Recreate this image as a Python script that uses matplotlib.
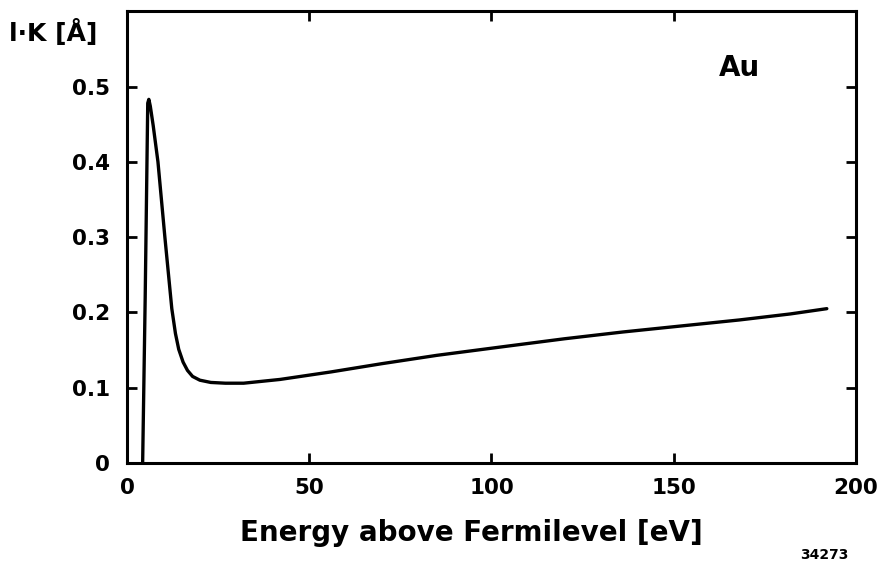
import matplotlib
matplotlib.use("Agg")
import matplotlib.pyplot as plt

# Data
energy = [4.3, 5.0, 5.7, 6.0, 6.4, 7.2, 8.5, 10.4, 11.4, 12.3, 13.3, 14.2, 15.4, 16.6, 18.0,
          20.0, 23.0, 27.0, 32.0, 42.0, 56.0, 70.0, 85.0, 104.0, 120.0, 136.0, 152.0, 168.0,
          182.0, 192.0]
ik = [0.0, 0.22, 0.478, 0.483, 0.474, 0.448, 0.40, 0.30, 0.25, 0.205, 0.172, 0.151, 0.134,
      0.123, 0.115, 0.110, 0.107, 0.106, 0.106, 0.111, 0.121, 0.132, 0.143, 0.155, 0.165,
      0.174, 0.182, 0.190, 0.198, 0.205]
xticks = [0, 50, 100, 150, 200]
yticks = [0, 0.1, 0.2, 0.3, 0.4, 0.5]
ytick_labels = ["0", "0.1", "0.2", "0.3", "0.4", "0.5"]

plt.rcParams['font.family'] = ['DejaVu Sans']

fig = plt.figure(figsize=(8.91, 5.63), dpi=100)
ax = fig.add_axes([0.1425, 0.1776, 0.8182, 0.8024])

ax.plot(energy, ik, color='black', lw=2.4, solid_joinstyle='round', solid_capstyle='round')

ax.set_xlim(0, 200)
ax.set_ylim(0, 0.6)
ax.set_xticks(xticks)
ax.set_xticklabels([str(v) for v in xticks])
ax.set_yticks(yticks)
ax.set_yticklabels(ytick_labels)

for s in ax.spines.values():
    s.set_linewidth(2.2)
    s.set_color('black')

ax.tick_params(axis='both', direction='in', length=7, width=2, colors='black',
               labelsize=15.5, top=True, right=True)
ax.tick_params(axis='x', pad=11)
ax.tick_params(axis='y', pad=12)
for lab in ax.get_xticklabels() + ax.get_yticklabels():
    lab.set_fontweight('bold')

ax.set_xlabel("Energy above Fermilevel [eV]", fontsize=20, fontweight='bold')
ax.xaxis.set_label_coords(0.473, -0.125)

fig.text(0.010, 0.943, "l·K [Å]", fontsize=18, fontweight='bold', ha='left', va='center')
ax.text(0.84, 0.875, "Au", transform=ax.transAxes, fontsize=20, fontweight='bold',
        ha='center', va='center')
fig.text(0.925, 0.001, "34273", fontsize=10, fontweight='bold', ha='center', va='bottom')

fig.savefig("out.png", dpi=100)
